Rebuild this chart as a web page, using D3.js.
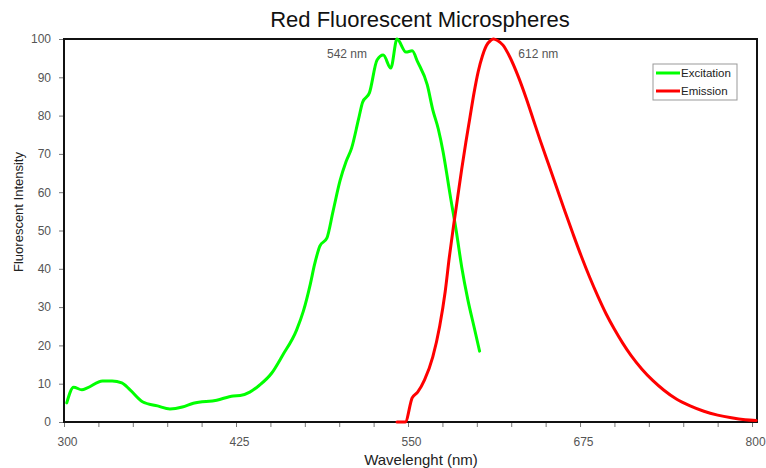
<!DOCTYPE html>
<html>
<head>
<meta charset="utf-8">
<script src="https://cdn.jsdelivr.net/npm/d3@7"></script>
<style>
  body { margin: 0; background: #fff; }
  text { font-family: "Liberation Sans", Arial, sans-serif; }
</style>
</head>
<body>
<div id="chart"></div>
<script>
// spectra: [wavelength nm, intensity]
var excitation = [
  [302, 5], [307, 9.1], [313, 8.4], [317, 8.9], [328, 10.7], [335, 10.7],
  [342, 10.2], [348, 8.4], [357, 5.3], [368, 4.2], [377, 3.4], [386, 3.9],
  [394, 4.9], [411, 5.7], [423, 6.8], [428, 6.9], [435, 7.8], [442, 9.6],
  [451, 12.8], [459, 17.5], [469, 24], [474, 29], [479, 36], [482, 41],
  [486, 46], [491, 48], [495.5, 55], [500.6, 63], [505, 68], [509, 71.5],
  [514, 79], [517, 83.5], [522, 86], [527.5, 94.5], [532, 95.8], [537.5, 92.4],
  [542, 100], [548.5, 96.6], [553, 96.9], [557, 94], [564, 88], [568, 81.5],
  [572, 76.5], [575.5, 70.5], [578.3, 64.5], [580.5, 59.5], [585, 50],
  [589, 40.5], [593.5, 31.9], [598, 24.8], [602, 18.5]
];

var emission = [
  [542, 0], [548, 0], [553, 6.3], [557, 7.8], [562, 11], [568, 17], [573, 25],
  [577, 34], [580, 43], [583, 51], [586, 58.5], [589, 66], [592, 73],
  [595, 79.5], [598, 86], [601, 91.5], [604, 95.5], [607, 98.3], [610, 99.6],
  [612, 100], [615, 99.6], [619, 98.4], [624, 95.3], [630, 90.3], [636, 84.4],
  [641, 79], [646, 73.6], [652, 67.4], [658, 61.2], [664, 55], [670, 49],
  [676, 43.2], [682, 37.8], [688, 32.8], [694, 28.2], [700, 24.2], [706, 20.6],
  [712, 17.4], [720, 13.8], [728, 10.8], [736, 8.3], [745, 6], [755, 4.2],
  [765, 2.8], [775, 1.8], [785, 1.1], [795, 0.6], [803, 0.4]
];

var seriesNames = ["Excitation", "Emission"];
var seriesColors = ["#00ff00", "#ff0000"];
var peaks = [[542, "542 nm"], [612, "612 nm"]];
var xTickLabels = [300, 425, 550, 675, 800];
var yTicks = [0, 10, 20, 30, 40, 50, 60, 70, 80, 90, 100];

var svgWidth = 766;
var svgHeight = 468;
var margin = { top: 39, right: 9, bottom: 46, left: 64 };
var width = svgWidth - margin.left - margin.right;
var height = svgHeight - margin.top - margin.bottom;

var svg = d3.select("#chart")
  .append("svg")
  .attr("width", svgWidth)
  .attr("height", svgHeight);

var chartGroup = svg.append("g")
  .attr("transform", `translate(${margin.left}, ${margin.top})`);

var xScale = d3.scaleLinear()
  .domain([300, 803.6])
  .range([0, width]);

var yScale = d3.scaleLinear()
  .domain([0, 100])
  .range([height, 0]);

// axes
var bottomAxis = d3.axisBottom(xScale)
  .tickValues(d3.range(300, 801, 25))
  .tickFormat(d => xTickLabels.indexOf(d) >= 0 ? d : "")
  .tickSize(5)
  .tickSizeOuter(0)
  .tickPadding(10);

var leftAxis = d3.axisLeft(yScale)
  .tickValues(yTicks)
  .tickSize(5)
  .tickSizeOuter(0)
  .tickPadding(8);

var xg = chartGroup.append("g")
  .attr("transform", `translate(0, ${height})`)
  .call(bottomAxis);
xg.selectAll("text").attr("dx", 3);

var yg = chartGroup.append("g")
  .call(leftAxis);

[xg, yg].forEach(function(g) {
  g.select(".domain").remove();
  g.selectAll(".tick line").attr("stroke", "#777").attr("stroke-width", 1);
  g.selectAll(".tick text")
    .attr("fill", "#555")
    .style("font-size", "12px");
});

// frame
chartGroup.append("rect")
  .attr("x", 0)
  .attr("y", 0)
  .attr("width", width)
  .attr("height", height)
  .attr("fill", "none")
  .attr("stroke", "#111")
  .attr("stroke-width", 2);

// lines
var line = d3.line()
  .x(d => xScale(d[0]))
  .y(d => yScale(d[1]))
  .curve(d3.curveMonotoneX);

[excitation, emission].forEach(function(data, i) {
  chartGroup.append("path")
    .datum(data)
    .attr("d", line)
    .attr("fill", "none")
    .attr("stroke", seriesColors[i])
    .attr("stroke-width", 3)
    .attr("stroke-linejoin", "round")
    .attr("stroke-linecap", "round");
});

// peak labels
chartGroup.selectAll(".peak")
  .data(peaks)
  .enter()
  .append("text")
  .attr("class", "peak")
  .attr("x", (d, i) => i === 0 ? xScale(d[0]) - 70 : xScale(d[0]) + 25)
  .attr("y", 19)
  .attr("fill", "#555")
  .style("font-size", "12px")
  .text(d => d[1]);

// legend
var legend = svg.append("g")
  .attr("transform", "translate(653, 64)");

legend.append("rect")
  .attr("width", 84)
  .attr("height", 36)
  .attr("fill", "#fff")
  .attr("stroke", "#999")
  .attr("stroke-width", 1);

seriesNames.forEach(function(name, i) {
  legend.append("line")
    .attr("x1", 3)
    .attr("x2", 27)
    .attr("y1", 9 + i * 18)
    .attr("y2", 9 + i * 18)
    .attr("stroke", seriesColors[i])
    .attr("stroke-width", 3);
  legend.append("text")
    .attr("x", 28)
    .attr("y", 13 + i * 18)
    .attr("fill", "#222")
    .style("font-size", "11.5px")
    .text(name);
});

// title and axis labels
svg.append("text")
  .attr("x", 420)
  .attr("y", 27)
  .attr("text-anchor", "middle")
  .attr("fill", "#111")
  .style("font-size", "22px")
  .text("Red Fluorescent Microspheres");

svg.append("text")
  .attr("x", 421)
  .attr("y", 465)
  .attr("text-anchor", "middle")
  .attr("fill", "#222")
  .style("font-size", "15px")
  .text("Wavelenght (nm)");

svg.append("text")
  .attr("transform", "rotate(-90)")
  .attr("x", -212)
  .attr("y", 23)
  .attr("text-anchor", "middle")
  .attr("fill", "#222")
  .style("font-size", "13px")
  .text("Fluorescent Intensity");
</script>
</body>
</html>
